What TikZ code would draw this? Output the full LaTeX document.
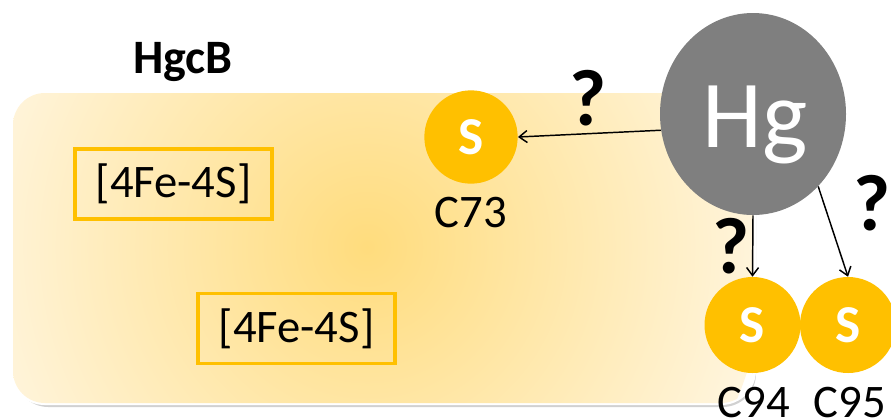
\documentclass[tikz,border=0pt]{standalone}
\usepackage{fontspec}
\setmainfont{Carlito}
\usetikzlibrary{arrows.meta,shapes.geometric}
\definecolor{gold}{RGB}{255,192,0}
\definecolor{hggray}{RGB}{127,127,127}
\definecolor{shin}{RGB}{255,220,125}
\definecolor{shout}{RGB}{255,245,222}
\begin{document}
\begin{tikzpicture}[x=0.75pt,y=-0.75pt,
  sball/.style={circle, fill=gold, inner sep=0pt, text=white, font=\bfseries\fontsize{40}{42}\selectfont},
  lbl/.style={anchor=base, font=\fontsize{35}{40}\selectfont},
  febox/.style={draw=gold, line width=2.6pt, minimum width=147.75pt, minimum height=52.5pt, inner sep=0pt, font=\fontsize{35}{40}\selectfont},
  qmark/.style={anchor=base, font=\bfseries\fontsize{60}{66}\selectfont},
  conn/.style={line width=1.1pt, -{Straight Barb[length=6pt,width=9pt]}}]
\useasboundingbox (0,0) rectangle (891,419);
% protein body
\fill[black!18, rounded corners=25pt] (15,97) rectangle (756,407);
\fill[white, rounded corners=26pt] (10,90) rectangle (756,405);
\begin{scope}
  \clip[rounded corners=24pt] (13,93) rectangle (753,403);
  \shade[inner color=shin, outer color=shout] (367,247) circle (300pt);
\end{scope}
\node[anchor=base, font=\bfseries\fontsize{36}{40}\selectfont] (title) at (183,73) {HgcB};
\node[febox] (fe1) at (173.5,184) {[4Fe-4S]};
\node[febox] (fe2) at (296.5,328.5) {[4Fe-4S]};
% sulfur atoms
\node[sball, minimum size=70pt] (c73) at (471,137) {S};
\node[lbl] (c73l) at (471,227) {C73};
\node[sball, minimum size=72pt] (c94) at (752.5,325) {S};
\node[sball, minimum size=72pt] (c95) at (848,325) {S};
\node[lbl] (c94l) at (754,417) {C94};
\node[lbl] (c95l) at (850,417) {C95};
% mercury
\node[ellipse, fill=hggray, minimum width=139.5pt, minimum height=151.5pt, inner sep=0pt] (hg) at (753,114) {};
\node[anchor=base, text=white, font=\fontsize{72}{80}\selectfont] (hgt) at (755,147) {Hg};
% arrows
\draw[conn] (hg.190) -- (c73.east);
\draw[conn] (hg.south) -- (c94.north);
\draw[conn] (hg.-48) -- (c95.north);
\node[qmark] (q1) at (588,125) {?};
\node[qmark] (q2) at (731,273) {?};
\node[qmark] (q3) at (872,230) {?};
\end{tikzpicture}
\end{document}
